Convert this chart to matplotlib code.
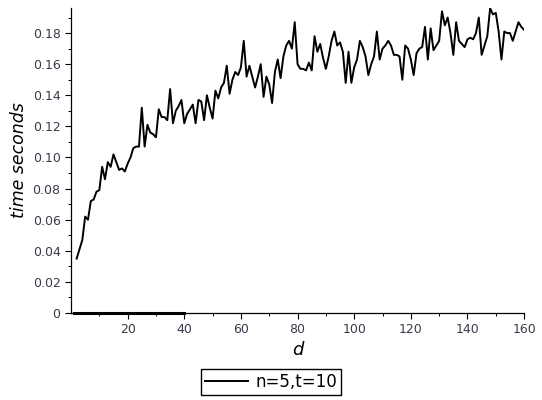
import numpy as np
import matplotlib
matplotlib.use("Agg")
import matplotlib.pyplot as plt
from matplotlib.ticker import MultipleLocator, FixedLocator

# timings for n=5, t=10, d = 2..160
d = np.arange(2, 161)
times = [
    0.035, 0.041, 0.047, 0.062, 0.060, 0.072, 0.073, 0.078,
    0.079, 0.094, 0.086, 0.097, 0.094, 0.102, 0.097, 0.092, 0.093, 0.091,
    0.096, 0.100, 0.106, 0.107, 0.107, 0.132, 0.107, 0.121, 0.116, 0.115,
    0.113, 0.131, 0.126, 0.126, 0.124, 0.144, 0.122, 0.130, 0.133, 0.137,
    0.122, 0.128, 0.131, 0.134, 0.122, 0.137, 0.136, 0.124, 0.140, 0.132,
    0.125, 0.143, 0.138, 0.145, 0.148, 0.159, 0.141, 0.150, 0.155, 0.153,
    0.158, 0.175, 0.152, 0.159, 0.152, 0.145, 0.152, 0.160, 0.139, 0.152,
    0.147, 0.135, 0.155, 0.163, 0.151, 0.165, 0.172, 0.175, 0.170, 0.187,
    0.160, 0.157, 0.157, 0.156, 0.161, 0.156, 0.178, 0.168, 0.173, 0.164,
    0.157, 0.165, 0.175, 0.181, 0.172, 0.174, 0.168, 0.148, 0.168, 0.148,
    0.158, 0.163, 0.175, 0.171, 0.165, 0.153, 0.160, 0.165, 0.181, 0.163,
    0.170, 0.172, 0.175, 0.172, 0.166, 0.166, 0.165, 0.150, 0.172, 0.170,
    0.163, 0.153, 0.167, 0.170, 0.171, 0.184, 0.163, 0.183, 0.169, 0.172,
    0.175, 0.194, 0.185, 0.190, 0.180, 0.166, 0.187, 0.175, 0.173, 0.171,
    0.176, 0.177, 0.176, 0.180, 0.190, 0.166, 0.172, 0.178, 0.196, 0.192,
    0.193, 0.181, 0.163, 0.181, 0.180, 0.180, 0.175, 0.181, 0.187, 0.184, 0.182,
]

# second (empty) series lying on the axis
d_zero = np.arange(1, 41)
zero_times = np.zeros(len(d_zero))

x_ticks = [20, 40, 60, 80, 100, 120, 140, 160]
y_ticks = [0, 0.02, 0.04, 0.06, 0.08, 0.10, 0.12, 0.14, 0.16, 0.18]
y_labels = ["0", "0.02", "0.04", "0.06", "0.08", "0.10", "0.12", "0.14", "0.16", "0.18"]

tick_col = "#3a3a4a"

fig = plt.figure(figsize=(5.42, 4.0), dpi=100)
ax = fig.add_axes([0.131, 0.2175, 0.836, 0.762])

ax.plot(d, times, color="black", linewidth=1.4, label="n=5,t=10")
ax.plot(d_zero, zero_times, color="black", linewidth=2.2, clip_on=False, zorder=3)

ax.set_xlim(0, 160)
ax.set_ylim(0, 0.196)

for side in ["top", "right"]:
    ax.spines[side].set_visible(False)
for side in ["left", "bottom"]:
    ax.spines[side].set_linewidth(0.9)

ax.xaxis.set_major_locator(FixedLocator(x_ticks))
ax.xaxis.set_minor_locator(FixedLocator([10, 30, 50, 70, 90, 110, 130, 150]))
ax.set_yticks(y_ticks)
ax.set_yticklabels(y_labels)
ax.yaxis.set_minor_locator(MultipleLocator(0.01))

ax.tick_params(which="major", direction="out", length=4, width=0.8,
               labelsize=9, labelcolor=tick_col, color="black")
ax.tick_params(which="minor", direction="out", length=2.5, width=0.7, color="black")

ax.set_xlabel("d", fontsize=13, style="italic", labelpad=3)
ax.set_ylabel("time seconds", fontsize=12.5, style="italic", labelpad=3)

fig.legend(loc="center", bbox_to_anchor=(0.5, 0.045), fontsize=12,
           fancybox=False, edgecolor="black", framealpha=1,
           handlelength=2.6, borderpad=0.25, handletextpad=0.4)

plt.savefig("out.png", dpi=100)
